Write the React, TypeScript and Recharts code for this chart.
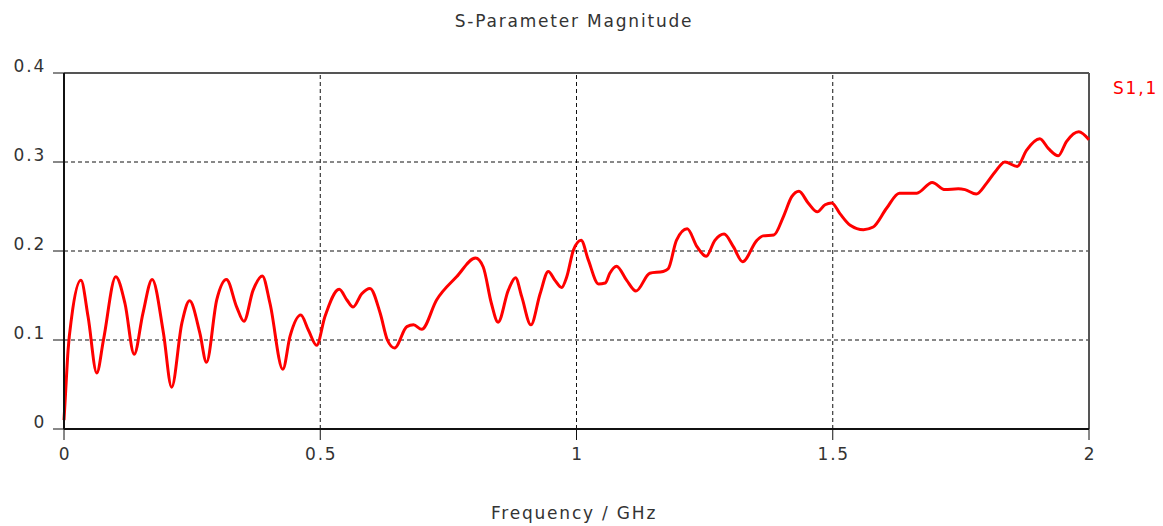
import { LineChart, Line, XAxis, YAxis, ReferenceLine } from "recharts";

// frequency (GHz) and |S1,1|
const freqGHz = [
  0, 0.003, 0.008, 0.015, 0.033, 0.047, 0.064, 0.077, 0.101, 0.119, 0.137, 0.154, 0.172, 0.194, 0.21,
  0.23, 0.245, 0.265, 0.278, 0.298, 0.317, 0.337, 0.351, 0.369, 0.387, 0.402, 0.427, 0.441, 0.462,
  0.477, 0.493, 0.509, 0.537, 0.552, 0.564, 0.581, 0.597, 0.617, 0.631, 0.645, 0.669, 0.682, 0.698,
  0.727, 0.766, 0.803, 0.818, 0.834, 0.847, 0.867, 0.881, 0.893, 0.911, 0.929, 0.945, 0.958, 0.971,
  0.981, 0.994, 1.009, 1.023, 1.043, 1.056, 1.065, 1.078, 1.098, 1.116, 1.143, 1.169, 1.179, 1.195,
  1.216, 1.235, 1.253, 1.27, 1.288, 1.306, 1.324, 1.352, 1.364, 1.385, 1.404, 1.42, 1.434, 1.452,
  1.47, 1.485, 1.498, 1.514, 1.534, 1.56, 1.579, 1.605, 1.63, 1.664, 1.694, 1.719, 1.745, 1.758,
  1.78, 1.8, 1.817, 1.836, 1.86, 1.878, 1.904, 1.921, 1.94, 1.956, 1.98, 2.0,
];
const s11 = [
  0.01, 0.04, 0.089, 0.126, 0.167, 0.126, 0.063, 0.1, 0.171, 0.141, 0.084, 0.13, 0.168, 0.108, 0.047,
  0.119, 0.144, 0.108, 0.075, 0.145, 0.168, 0.137, 0.121, 0.156, 0.172, 0.141, 0.067, 0.104, 0.128,
  0.111, 0.094, 0.126, 0.157, 0.145, 0.137, 0.152, 0.158, 0.13, 0.1, 0.091, 0.115, 0.117, 0.112,
  0.145, 0.171, 0.192, 0.182, 0.141, 0.12, 0.156, 0.17, 0.149, 0.117, 0.152, 0.177, 0.167, 0.159,
  0.171, 0.201, 0.212, 0.19, 0.163, 0.164, 0.175, 0.183, 0.167, 0.155, 0.175, 0.177, 0.18, 0.212,
  0.225, 0.205, 0.194, 0.212, 0.219, 0.205, 0.188, 0.212, 0.217, 0.218, 0.239, 0.261, 0.267, 0.254,
  0.244, 0.252, 0.254, 0.242, 0.229, 0.224, 0.227, 0.248, 0.265, 0.265, 0.277, 0.269, 0.27, 0.269,
  0.264, 0.276, 0.289, 0.3, 0.295, 0.313, 0.326, 0.315, 0.307, 0.323, 0.334, 0.325,
];

const xTicks = [0, 0.5, 1, 1.5, 2];
const yTicks = [0, 0.1, 0.2, 0.3, 0.4];
const xGrid = [0.5, 1, 1.5];
const yGrid = [0.1, 0.2, 0.3];

const data = freqGHz.map((f, i) => ({ f, s11: s11[i] }));

const FONT = "'DejaVu Sans', sans-serif";
const SPACING = 1.8;

function YTick({ x, y, payload }: any) {
  return (
    <text x={x} y={y - 1} textAnchor="end" fill="#333" fontSize={17} letterSpacing={SPACING} fontFamily={FONT}>
      {payload.value}
    </text>
  );
}

function XTick({ x, y, payload }: any) {
  return (
    <text x={x + 1} y={y + 18} textAnchor="middle" fill="#333" fontSize={17} letterSpacing={SPACING} fontFamily={FONT}>
      {payload.value}
    </text>
  );
}

const textStyle = { position: "absolute" as const, fontSize: 17, letterSpacing: SPACING, color: "#333" };

export default function App() {
  return (
    <div style={{ position: "absolute", left: 0, top: 0, width: 1163, height: 526, background: "#fff", fontFamily: FONT, overflow: "hidden" }}>
      <div style={{ ...textStyle, left: 0, width: 1148, top: 11, textAlign: "center" }}>
        S-Parameter Magnitude
      </div>
      <LineChart width={1163} height={526} data={data} margin={{ top: 73, right: 74, bottom: 67, left: 0 }}>
        {yGrid.map((v) => (
          <ReferenceLine key={"y" + v} y={v} stroke="#111" strokeDasharray="4 3" strokeWidth={1} />
        ))}
        {xGrid.map((v) => (
          <ReferenceLine key={"x" + v} x={v} stroke="#111" strokeDasharray="4 3" strokeWidth={1} />
        ))}
        <ReferenceLine y={0.4} stroke="#555" strokeWidth={2} />
        <ReferenceLine x={2} stroke="#555" strokeWidth={2} />
        <XAxis
          dataKey="f"
          type="number"
          domain={[0, 2]}
          ticks={xTicks}
          height={30}
          tickSize={11}
          tickLine={{ stroke: "#111" }}
          axisLine={{ stroke: "#111", strokeWidth: 2 }}
          tick={<XTick />}
          interval={0}
        />
        <YAxis
          type="number"
          domain={[0, 0.4]}
          ticks={yTicks}
          width={64}
          tickSize={11}
          tickMargin={7}
          tickLine={{ stroke: "#111" }}
          axisLine={{ stroke: "#111", strokeWidth: 2 }}
          tick={<YTick />}
          interval={0}
        />
        <Line
          type="monotone"
          dataKey="s11"
          stroke="#ff0000"
          strokeWidth={3}
          dot={false}
          isAnimationActive={false}
        />
      </LineChart>
      <div style={{ ...textStyle, left: 0, width: 1148, top: 503, textAlign: "center" }}>
        Frequency / GHz
      </div>
      <div style={{ ...textStyle, left: 1113, top: 78, color: "#ff0000" }}>S1,1</div>
    </div>
  );
}
